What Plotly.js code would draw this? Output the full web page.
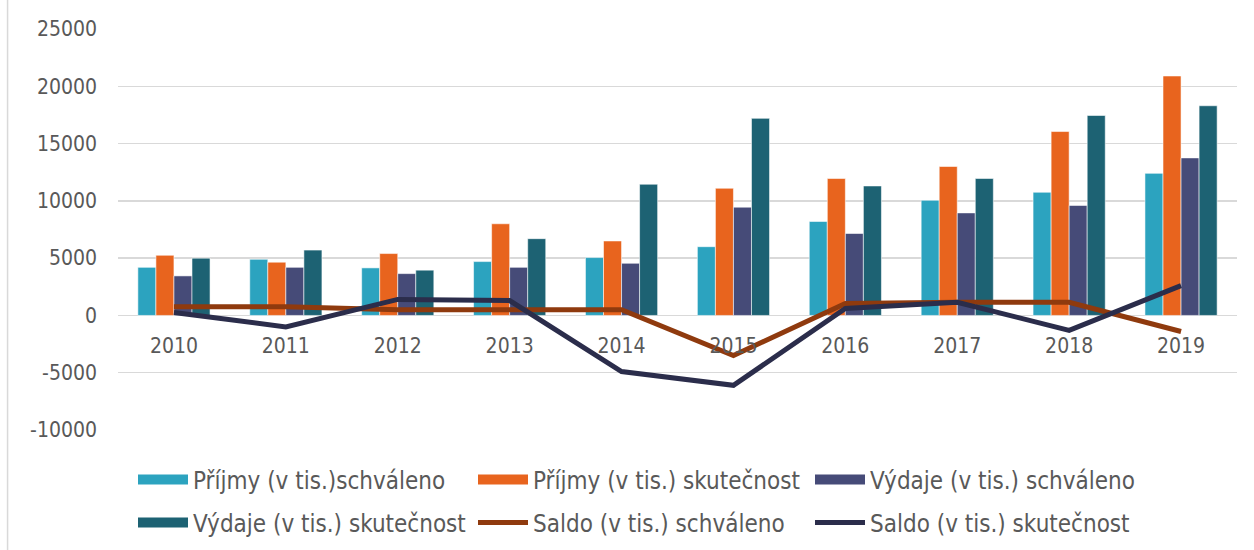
<!DOCTYPE html>
<html>
<head>
<meta charset="utf-8">
<script src="https://cdn.plot.ly/plotly-3.0.1.min.js"></script>
<style>
html,body{margin:0;padding:0;background:#fff;}
#chart{width:1254px;height:550px;}
</style>
</head>
<body>
<div id="chart"></div>
<script>
var years = ["2010","2011","2012","2013","2014","2015","2016","2017","2018","2019"];
var prijmySchvaleno = [4200, 4900, 4150, 4700, 5050, 6000, 8200, 10050, 10750, 12400];
var prijmySkutecnost = [5250, 4650, 5400, 8000, 6500, 11100, 11950, 13000, 16050, 20900];
var vydajeSchvaleno = [3450, 4200, 3650, 4200, 4550, 9450, 7150, 8950, 9600, 13750];
var vydajeSkutecnost = [5000, 5700, 3950, 6700, 11450, 17200, 11300, 11950, 17450, 18300];
var saldoSchvaleno = [750, 750, 500, 500, 500, -3500, 1050, 1150, 1150, -1400];
var saldoSkutecnost = [250, -1000, 1400, 1300, -4900, -6100, 600, 1150, -1300, 2600];
var seriesNames = ["Příjmy (v tis.)schváleno", "Příjmy (v tis.) skutečnost", "Výdaje (v tis.) schváleno",
                   "Výdaje (v tis.) skutečnost", "Saldo (v tis.) schváleno", "Saldo (v tis.) skutečnost"];
var yTickVals = [-10000, -5000, 0, 5000, 10000, 15000, 20000, 25000];
var yTickText = ["-10000", "-5000", "0", "5000", "10000", "15000", "20000", "25000"];

var FONT = "DejaVu Sans Condensed, DejaVu Sans, sans-serif";
var TXT = "#595959";
var GRID = "#d9d9d9";
var COLORS = ["#2ca3bf", "#e8641e", "#464b78", "#1d6273", "#8f3a0e", "#2b2d4b"];
var barLine = {color: "rgba(255,255,255,0.55)", width: 1};

var barData = [prijmySchvaleno, prijmySkutecnost, vydajeSchvaleno, vydajeSkutecnost];
var lineData = [saldoSchvaleno, saldoSkutecnost];
var legendIds = ["legend", "legend2", "legend3", "legend4", "legend5", "legend6"];

var traces = [];
barData.forEach(function (vals, i) {
  traces.push({type:"bar", x:years, y:vals, name:seriesNames[i], legendgroup:"g" + i,
    showlegend:false, marker:{color:COLORS[i], line:barLine}});
});
// legend swatches for the bar series (wide rectangles as in the original)
barData.forEach(function (vals, i) {
  traces.push({type:"scatter", mode:"lines", x:[null], y:[null], name:seriesNames[i],
    legendgroup:"g" + i, legend:legendIds[i], hoverinfo:"skip",
    line:{color:COLORS[i], width:12}});
});
lineData.forEach(function (vals, j) {
  var i = j + 4;
  traces.push({type:"scatter", mode:"lines", x:years, y:vals, name:seriesNames[i],
    legend:legendIds[i], line:{color:COLORS[i], width:5}});
});

var yMin = -10000, yMax = 25000;
var legendCommon = {
  orientation:"h", xref:"container", yref:"container", xanchor:"left", yanchor:"middle",
  font:{family:FONT, size:24, color:TXT}, itemwidth:50,
  bgcolor:"rgba(0,0,0,0)", borderwidth:0, itemclick:false, itemdoubleclick:false
};
function leg(xpx, ypx) {
  return Object.assign({}, legendCommon, {x: xpx / 1254, y: (550 - ypx) / 550});
}
var row1 = 480, row2 = 523;

var layout = {
  width:1254, height:550,
  margin:{l:118, r:17, t:29, b:120, pad:0},
  paper_bgcolor:"#ffffff", plot_bgcolor:"#ffffff",
  font:{family:FONT, size:21, color:TXT},
  barmode:"group", bargap:0.355, bargroupgap:0,
  showlegend:true,
  legend:leg(133, row1),
  legend2:leg(473, row1),
  legend3:leg(810, row1),
  legend4:leg(133, row2),
  legend5:leg(473, row2),
  legend6:leg(810, row2),
  xaxis:{type:"category", anchor:"free", position:(0 - yMin)/(yMax - yMin),
         showline:false, showgrid:false, ticks:"", ticklabelstandoff:16,
         tickfont:{family:FONT, size:21, color:TXT}, fixedrange:true},
  yaxis:{range:[yMin, yMax], tickvals:yTickVals, ticktext:yTickText,
         showgrid:true, gridcolor:GRID, gridwidth:1.5,
         zeroline:true, zerolinecolor:GRID, zerolinewidth:1.5,
         showline:false, ticks:"", ticklabelstandoff:20,
         tickfont:{family:FONT, size:21, color:TXT}, fixedrange:true},
  shapes:[
    {type:"line", xref:"paper", yref:"paper", x0:-0.0987, x1:-0.0987, y0:-0.31, y1:1.08,
     line:{color:GRID, width:1.5}}
  ]
};

Plotly.newPlot("chart", traces, layout, {displayModeBar:false, staticPlot:true});
</script>
</body>
</html>
